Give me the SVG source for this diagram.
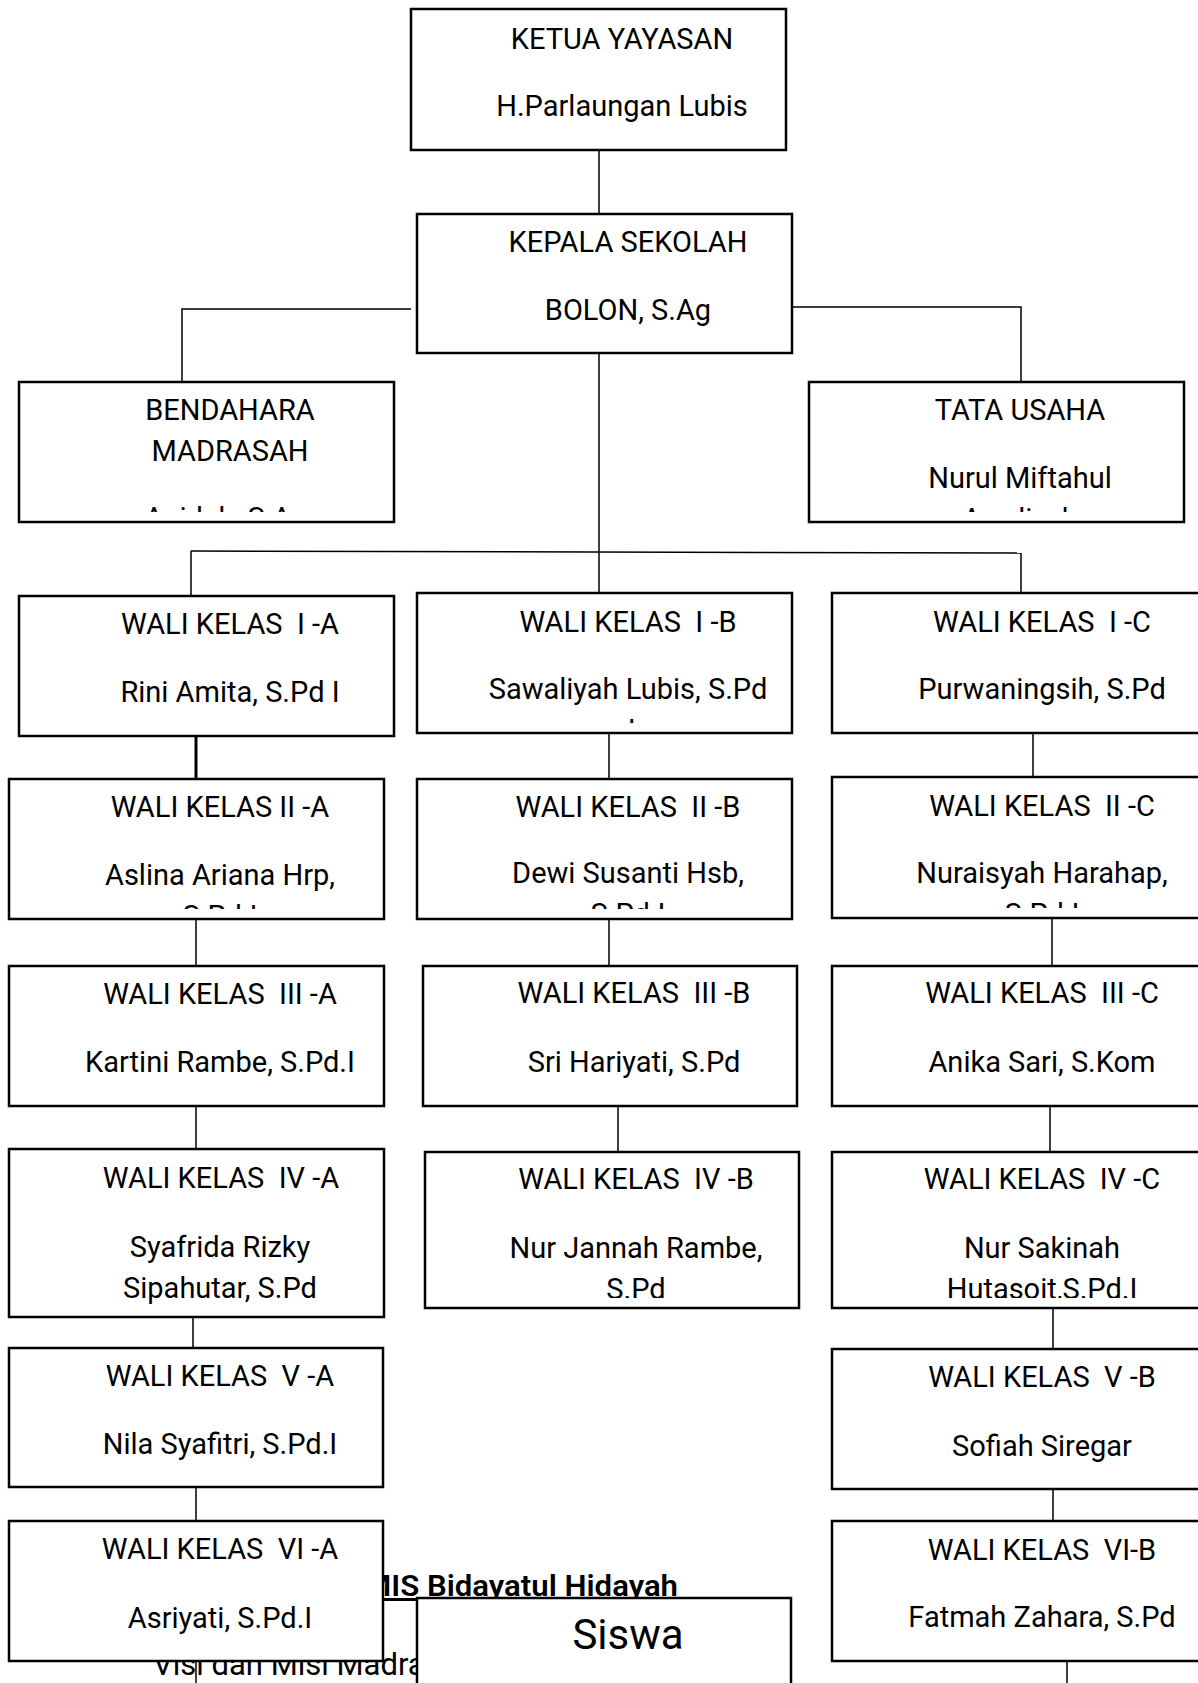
<svg xmlns="http://www.w3.org/2000/svg" width="1198" height="1683" viewBox="0 0 1198 1683">
<style>
.box{fill:#fff;stroke:#000;stroke-width:2.5}
.t{font-family:Roboto,"Liberation Sans",sans-serif;font-size:29px;fill:#000;text-anchor:middle;white-space:pre}
.c{fill:none;stroke:#000;stroke-width:1.5}
</style>
<defs>
<clipPath id="cpBend"><rect x="19" y="382" width="375" height="130"/></clipPath>
<clipPath id="cpTata"><rect x="809" y="382" width="375" height="130"/></clipPath>
<clipPath id="cpIB"><rect x="417" y="593" width="375" height="130"/></clipPath>
<clipPath id="cpIIA"><rect x="9" y="779" width="375" height="130"/></clipPath>
<clipPath id="cpIIB"><rect x="417" y="779" width="375" height="130"/></clipPath>
<clipPath id="cpIIC"><rect x="832" y="777" width="375" height="131"/></clipPath>
<clipPath id="cpIVB"><rect x="425" y="1152" width="374" height="146"/></clipPath>
<clipPath id="cpIVC"><rect x="832" y="1152" width="375" height="146"/></clipPath>
</defs>

<g id="background-text">
<text x="364" y="1596" font-family="Roboto,'Liberation Sans',sans-serif" font-size="30" font-weight="600" text-decoration="underline" textLength="314" lengthAdjust="spacingAndGlyphs">MIS Bidayatul Hidayah</text>
<text x="153" y="1675" font-family="Roboto,'Liberation Sans',sans-serif" font-size="31">Visi dan Misi Madrasah</text>
</g>

<g id="connectors">
<line class="c" x1="599" y1="150" x2="599" y2="214"/>
<polyline class="c" points="411,309 182,309 182,382"/>
<polyline class="c" points="792,307 1021,307 1021,382"/>
<line class="c" x1="599" y1="353" x2="599" y2="593"/>
<line class="c" x1="191" y1="551" x2="1021" y2="553"/>
<line class="c" x1="191" y1="551" x2="191" y2="596"/>
<line class="c" x1="1021" y1="553" x2="1021" y2="593"/>
<line class="c" x1="196" y1="736" x2="196" y2="779" style="stroke-width:3"/>
<line class="c" x1="196" y1="919" x2="196" y2="966"/>
<line class="c" x1="196" y1="1106" x2="196" y2="1149"/>
<line class="c" x1="193" y1="1317" x2="193" y2="1348"/>
<line class="c" x1="196" y1="1487" x2="196" y2="1521"/>
<line class="c" x1="196" y1="1661" x2="196" y2="1683"/>
<line class="c" x1="609" y1="733" x2="609" y2="779"/>
<line class="c" x1="609" y1="919" x2="609" y2="966"/>
<line class="c" x1="618" y1="1106" x2="618" y2="1152"/>
<line class="c" x1="1033" y1="733" x2="1033" y2="777"/>
<line class="c" x1="1052" y1="918" x2="1052" y2="966"/>
<line class="c" x1="1050" y1="1106" x2="1050" y2="1152"/>
<line class="c" x1="1053" y1="1308" x2="1053" y2="1349"/>
<line class="c" x1="1053" y1="1489" x2="1053" y2="1521"/>
<line class="c" x1="1067" y1="1661" x2="1067" y2="1683"/>
</g>

<g id="ketua">
<rect class="box" x="411" y="9" width="375" height="141"/>
<text class="t" x="622" y="49">KETUA YAYASAN</text>
<text class="t" x="622" y="116">H.Parlaungan Lubis</text>
</g>
<g id="kepala">
<rect class="box" x="417" y="214" width="375" height="139"/>
<text class="t" x="628" y="252">KEPALA SEKOLAH</text>
<text class="t" x="628" y="320">BOLON, S.Ag</text>
</g>
<g id="bendahara">
<rect class="box" x="19" y="382" width="375" height="140"/>
<text class="t" x="230" y="420">BENDAHARA</text>
<text class="t" x="230" y="461">MADRASAH</text>
<text class="t" x="226" y="528" clip-path="url(#cpBend)">Anidah, S.Ag</text>
</g>
<g id="tata-usaha">
<rect class="box" x="809" y="382" width="375" height="140"/>
<text class="t" x="1020" y="420">TATA USAHA</text>
<text class="t" x="1020" y="488">Nurul Miftahul</text>
<text class="t" x="1020" y="529" clip-path="url(#cpTata)">Awaliyah</text>
</g>

<g id="wali-1a">
<rect class="box" x="19" y="596" width="375" height="140"/>
<text class="t" x="230" y="634">WALI KELAS  I -A</text>
<text class="t" x="230" y="702">Rini Amita, S.Pd I</text>
</g>
<g id="wali-1b">
<rect class="box" x="417" y="593" width="375" height="140"/>
<text class="t" x="628" y="632">WALI KELAS  I -B</text>
<text class="t" x="628" y="699">Sawaliyah Lubis, S.Pd</text>
<text class="t" x="628" y="740" clip-path="url(#cpIB)">.I</text>
</g>
<g id="wali-1c">
<rect class="box" x="832" y="593" width="375" height="140"/>
<text class="t" x="1042" y="632">WALI KELAS  I -C</text>
<text class="t" x="1042" y="699">Purwaningsih, S.Pd</text>
</g>

<g id="wali-2a">
<rect class="box" x="9" y="779" width="375" height="140"/>
<text class="t" x="220" y="817">WALI KELAS II -A</text>
<text class="t" x="220" y="885">Aslina Ariana Hrp,</text>
<text class="t" x="220" y="926" clip-path="url(#cpIIA)">S.Pd.I</text>
</g>
<g id="wali-2b">
<rect class="box" x="417" y="779" width="375" height="140"/>
<text class="t" x="628" y="817">WALI KELAS  II -B</text>
<text class="t" x="628" y="883">Dewi Susanti Hsb,</text>
<text class="t" x="628" y="924" clip-path="url(#cpIIB)">S.Pd.I</text>
</g>
<g id="wali-2c">
<rect class="box" x="832" y="777" width="375" height="141"/>
<text class="t" x="1042" y="816">WALI KELAS  II -C</text>
<text class="t" x="1042" y="883">Nuraisyah Harahap,</text>
<text class="t" x="1042" y="924" clip-path="url(#cpIIC)">S.Pd.I</text>
</g>

<g id="wali-3a">
<rect class="box" x="9" y="966" width="375" height="140"/>
<text class="t" x="220" y="1004">WALI KELAS  III -A</text>
<text class="t" x="220" y="1072">Kartini Rambe, S.Pd.I</text>
</g>
<g id="wali-3b">
<rect class="box" x="423" y="966" width="374" height="140"/>
<text class="t" x="634" y="1003">WALI KELAS  III -B</text>
<text class="t" x="634" y="1072">Sri Hariyati, S.Pd</text>
</g>
<g id="wali-3c">
<rect class="box" x="832" y="966" width="375" height="140"/>
<text class="t" x="1042" y="1003">WALI KELAS  III -C</text>
<text class="t" x="1042" y="1072">Anika Sari, S.Kom</text>
</g>

<g id="wali-4a">
<rect class="box" x="9" y="1149" width="375" height="168"/>
<text class="t" x="221" y="1188">WALI KELAS  IV -A</text>
<text class="t" x="220" y="1257">Syafrida Rizky</text>
<text class="t" x="220" y="1298">Sipahutar, S.Pd</text>
</g>
<g id="wali-4b">
<rect class="box" x="425" y="1152" width="374" height="156"/>
<text class="t" x="636" y="1189">WALI KELAS  IV -B</text>
<text class="t" x="636" y="1258">Nur Jannah Rambe,</text>
<text class="t" x="636" y="1299" clip-path="url(#cpIVB)">S.Pd</text>
</g>
<g id="wali-4c">
<rect class="box" x="832" y="1152" width="375" height="156"/>
<text class="t" x="1042" y="1189">WALI KELAS  IV -C</text>
<text class="t" x="1042" y="1258">Nur Sakinah</text>
<text class="t" x="1042" y="1299" clip-path="url(#cpIVC)">Hutasoit,S.Pd.I</text>
</g>

<g id="wali-5a">
<rect class="box" x="9" y="1348" width="374" height="139"/>
<text class="t" x="220" y="1386">WALI KELAS  V -A</text>
<text class="t" x="220" y="1454">Nila Syafitri, S.Pd.I</text>
</g>
<g id="wali-5b">
<rect class="box" x="832" y="1349" width="375" height="140"/>
<text class="t" x="1042" y="1387">WALI KELAS  V -B</text>
<text class="t" x="1042" y="1456">Sofiah Siregar</text>
</g>

<g id="wali-6a">
<rect class="box" x="9" y="1521" width="374" height="140"/>
<text class="t" x="220" y="1559">WALI KELAS  VI -A</text>
<text class="t" x="220" y="1628">Asriyati, S.Pd.I</text>
</g>
<g id="wali-6b">
<rect class="box" x="832" y="1521" width="375" height="140"/>
<text class="t" x="1042" y="1560">WALI KELAS  VI-B</text>
<text class="t" x="1042" y="1627">Fatmah Zahara, S.Pd</text>
</g>

<g id="siswa">
<rect class="box" x="417" y="1598" width="374" height="120"/>
<text class="t" x="628" y="1649" style="font-size:42px">Siswa</text>
</g>
</svg>
